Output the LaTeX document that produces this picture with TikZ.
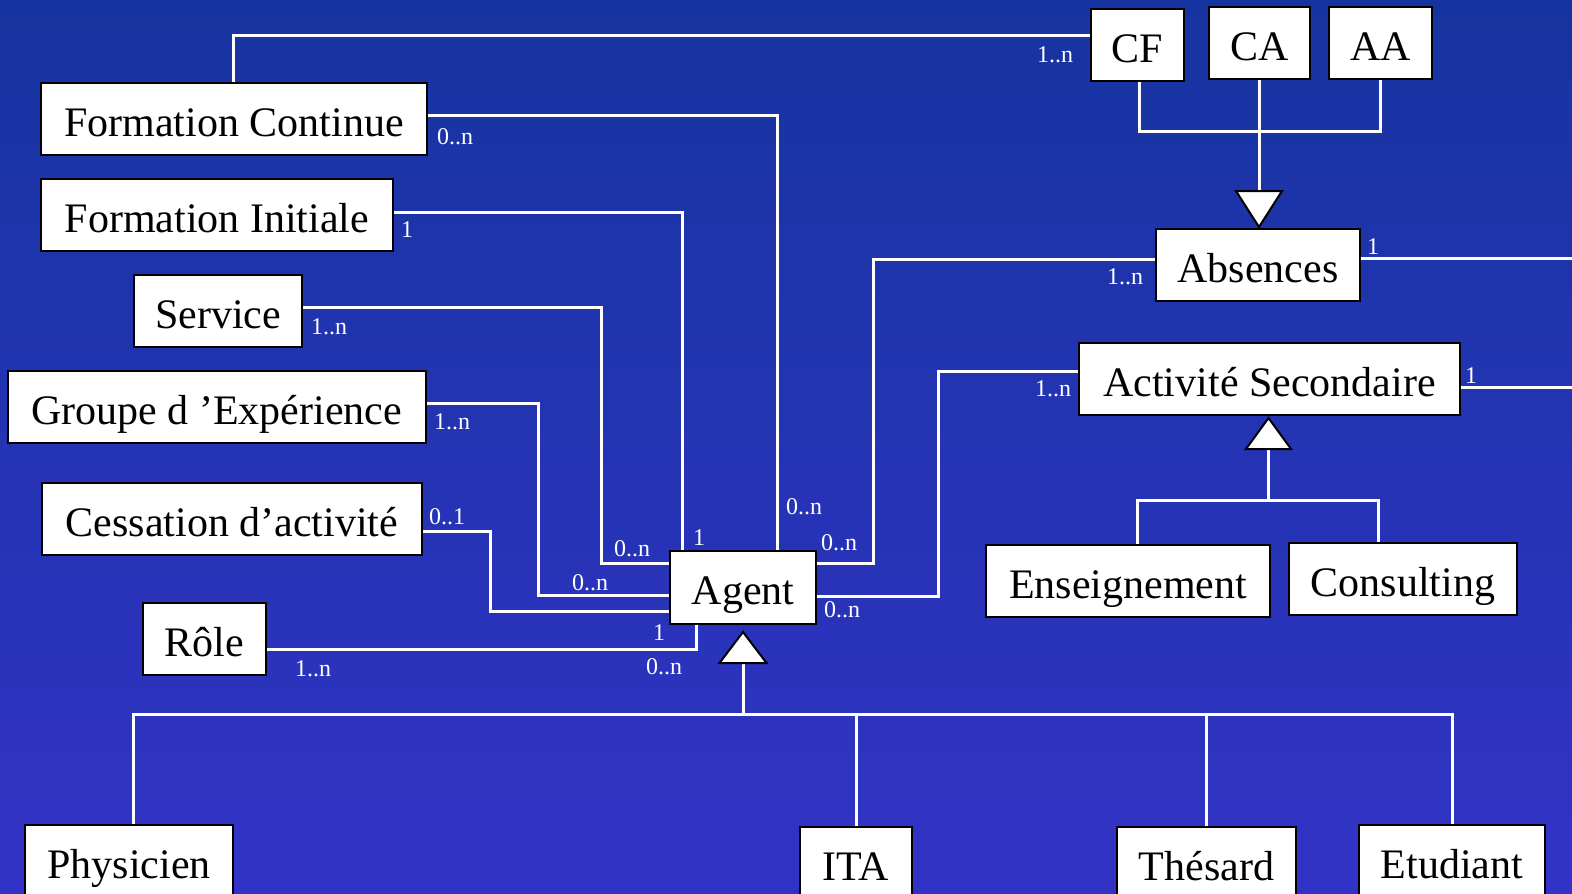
\documentclass[tikz,border=0pt]{standalone}
\usepackage{fontspec}
\setmainfont{Liberation Serif}
\usepackage{tikz}
\definecolor{bgtop}{RGB}{22,52,160}
\definecolor{bgbot}{RGB}{50,51,198}
\tikzset{
  cls/.style={draw=black, fill=white, line width=2pt, inner sep=0pt,
    text height=34pt, text depth=0pt, font=\fontsize{42}{42}\selectfont},
  assoc/.style={draw=white, line width=3pt},
  gen/.style={draw=black, fill=white, line width=2pt, line join=miter},
  mult/.style={text=white, anchor=base, inner sep=0pt,
    font=\fontsize{24}{24}\selectfont}
}

\begin{document}
\begin{tikzpicture}[x=1pt,y=-1pt]

  \useasboundingbox (0,0) rectangle (1572,894);
  \clip (0,0) rectangle (1572,894);
  \shade[top color=bgtop, bottom color=bgbot] (0,0) rectangle (1572,894);

  %% classes, left column
  \node[cls, minimum width=386pt, minimum height=72pt] (fc) at (234,119) {Formation Continue};
  \node[cls, minimum width=352pt, minimum height=72pt] (fi) at (217,215) {Formation Initiale};
  \node[cls, minimum width=168pt, minimum height=72pt] (svc) at (218,311) {Service};
  \node[cls, minimum width=418pt, minimum height=72pt] (grp) at (216.5,407) {Groupe d ’Expérience};
  \node[cls, minimum width=380pt, minimum height=72pt] (cess) at (232,519) {Cessation d’activité};
  \node[cls, minimum width=123pt, minimum height=72pt] (role) at (204.5,639) {Rôle};

  \node[cls, minimum width=146pt, minimum height=73pt] (ag) at (743,587.5) {Agent};

  %% right side
  \node[cls, minimum width=93pt, minimum height=72pt] (cf) at (1137.5,45) {CF};
  \node[cls, minimum width=101pt, minimum height=72pt] (ca) at (1259.5,43) {CA};
  \node[cls, minimum width=103pt, minimum height=72pt] (aa) at (1380.5,43) {AA};
  \node[cls, minimum width=204pt, minimum height=72pt] (abs) at (1258,265) {Absences};
  \node[cls, minimum width=381pt, minimum height=72pt] (as) at (1269.5,379) {Activité Secondaire};
  \node[cls, minimum width=284pt, minimum height=72pt] (ens) at (1128,581) {Enseignement};
  \node[cls, minimum width=228pt, minimum height=72pt] (cons) at (1403,579) {Consulting};

  %% sub-classes of Agent
  \node[cls, minimum width=208pt, minimum height=72pt] (phys) at (129,861) {Physicien};
  \node[cls, minimum width=112pt, minimum height=72pt] (ita) at (856,863) {ITA};
  \node[cls, minimum width=179pt, minimum height=72pt] (thes) at (1206.5,863) {Thésard};
  \node[cls, minimum width=186pt, minimum height=72pt] (etu) at (1452,861) {Etudiant};

  %% associations
  \draw[assoc] (fc.north -| 233,0) |- (cf.west |- 0,35); %% fc -> cf
  \draw[assoc] (fc.east |- 0,115) -| (ag.north -| 777,0); %% fc -> ag
  \draw[assoc] (fi.east |- 0,212) -| (ag.north -| 682,0); %% fi -> ag
  \draw[assoc] (svc.east |- 0,307) -| (601,563) -- (ag.west |- 0,563); %% svc -> ag
  \draw[assoc] (grp.east |- 0,403) -| (538,595) -- (ag.west |- 0,595); %% grp -> ag
  \draw[assoc] (cess.east |- 0,531) -| (490,611) -- (ag.west |- 0,611); %% cess -> ag
  \draw[assoc] (role.east |- 0,649) -| (ag.south -| 696,0); %% role -> ag
  \draw[assoc] (ag.east |- 0,563) -| (873,259) -- (abs.west |- 0,259); %% ag -> abs
  \draw[assoc] (ag.east |- 0,596) -| (938,371) -- (as.west |- 0,371); %% ag -> as

  \coordinate (absend) at (1572,258);
  \coordinate (asend) at (1572,387);
  \draw[assoc] (abs.east |- 0,258) -- (absend);
  \draw[assoc] (as.east |- 0,387) -- (asend);

  %% generalisations
  \coordinate (absj) at (1259,131);
  \coordinate (abstip) at (1259,227);
  \draw[assoc] (cf.south -| 1139,0) |- (absj) -| (aa.south -| 1380,0);
  \draw[assoc] (ca.south -| absj) -- (absj) -- ++(0,60);
  \draw[gen] (abstip) -- ++(23,-36) -- ++(-46,0) -- cycle;

  \coordinate (astip) at (1268.5,418);
  \coordinate (asbar) at (1268.5,500);
  \draw[assoc] (astip) ++(0,31) -- (asbar);
  \draw[assoc] (ens.north -| 1137,0) |- (asbar) -| (cons.north -| 1378,0);
  \draw[gen] (astip) -- ++(22.5,31) -- ++(-45,0) -- cycle;

  \coordinate (agtip) at (743,632);
  \coordinate (agbar) at (743,714);
  \draw[assoc] (agtip) ++(0,31) -- (agbar);
  \draw[assoc] (phys.north -| 133,0) |- (agbar) -| (etu.north -| 1452,0);
  \draw[assoc] (ita.north) -- (ita.north |- agbar);
  \draw[assoc] (thes.north) -- (thes.north |- agbar);
  \draw[gen] (agtip) -- ++(23.5,31) -- ++(-47,0) -- cycle;

  %% multiplicities
  \node[mult] (m-cf) at (1055,62) {1..n};
  \node[mult] (m-fc) at (455,144) {0..n};
  \node[mult] (m-fi) at (407,237.5) {1};
  \node[mult] (m-svc) at (329,334) {1..n};
  \node[mult] (m-grp) at (452,429) {1..n};
  \node[mult] (m-cess) at (447,524) {0..1};
  \node[mult] (m-role) at (313,676) {1..n};
  \node[mult] (m-agrole1) at (659,640) {1};
  \node[mult] (m-agrole2) at (664,674) {0..n};
  \node[mult] (m-agsvc) at (632,556) {0..n};
  \node[mult] (m-agfi) at (699,545) {1};
  \node[mult] (m-aggrp) at (590,590) {0..n};
  \node[mult] (m-agfc) at (804,514) {0..n};
  \node[mult] (m-agabs) at (839,550) {0..n};
  \node[mult] (m-agas) at (842,617.5) {0..n};
  \node[mult] (m-abs) at (1125,284) {1..n};
  \node[mult] (m-absr) at (1373,254) {1};
  \node[mult] (m-as) at (1053,396) {1..n};
  \node[mult] (m-asr) at (1471,383) {1};

\end{tikzpicture}
\end{document}
